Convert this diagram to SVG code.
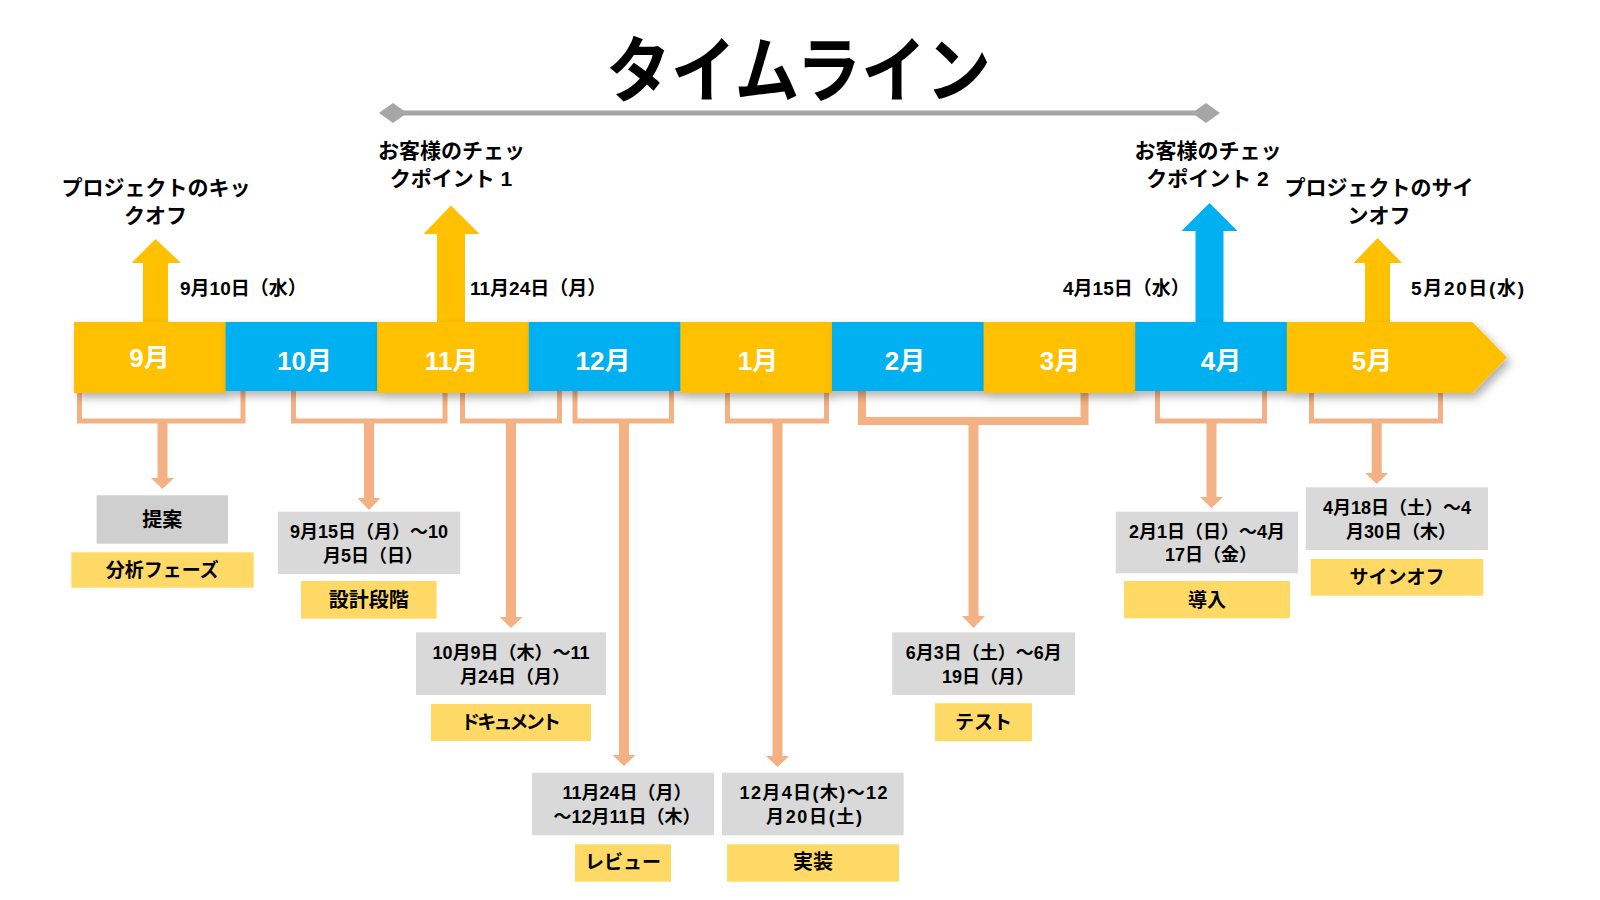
<svg xmlns="http://www.w3.org/2000/svg" width="1600" height="900" viewBox="0 0 1600 900">
<defs>
<style>
.t{font-family:"Liberation Sans","Noto Sans CJK JP",sans-serif;font-weight:bold;fill:#000;}
.title{font-family:"Noto Sans CJK JP",sans-serif;font-weight:bold;font-size:72px;fill:#000;}
.month{font-family:"Liberation Sans","Noto Sans CJK JP",sans-serif;font-weight:bold;font-size:26px;fill:#fff;text-anchor:middle;}
.ms{font-size:21px;text-anchor:middle;}
.dt{font-size:19px;}
.bx{font-size:18px;text-anchor:middle;}
.lb{font-size:19px;text-anchor:middle;}
.segY{fill:#FFC000;filter:url(#sh);}
.segB{fill:#00B0F0;filter:url(#sh);}
.upY{fill:#FFC000;}
.upB{fill:#00B0F0;}
.br{fill:none;stroke:#F4B183;stroke-width:5;}
.stem{stroke:#F4B183;stroke-width:10;}
.head{fill:#F4B183;}
.gbox{fill:#D9D9D9;}
.ybox{fill:#FFD966;}
</style>
<filter id="sh" x="-20%" y="-30%" width="150%" height="180%">
<feDropShadow dx="4" dy="5" stdDeviation="4" flood-color="#000" flood-opacity="0.3"/>
</filter>
</defs>
<rect width="1600" height="900" fill="#fff"/>

<g id="title">
<text class="title" x="798.5" y="96" text-anchor="middle" textLength="385" lengthAdjust="spacingAndGlyphs">タイムライン</text>
<line x1="393" y1="113" x2="1206" y2="113" stroke="#A6A6A6" stroke-width="5"/>
<polygon points="379,113 393,103 407,113 393,123" fill="#A6A6A6"/>
<polygon points="1192,113 1206,103 1220,113 1206,123" fill="#A6A6A6"/>
</g>

<g id="connectors">
<polygon class="upY" points="143,330 143,263 131.5,263 155.5,239 181,263 168,263 168,330"/>
<polygon class="upY" points="437,330 437,234 423.5,234 451,205.5 479.5,234 465,234 465,330"/>
<polygon class="upB" points="1195.5,330 1195.5,231 1181.5,231 1209.5,203 1237.5,231 1223.5,231 1223.5,330"/>
<polygon class="upY" points="1365,330 1365,263 1353.5,263 1377.5,238 1402,263 1390,263 1390,330"/>

<path class="br" d="M79.5 388 V421 H243 V388"/>
<line class="stem" x1="162.5" y1="421" x2="162.5" y2="479"/>
<polygon class="head" points="151,478 174,478 162.5,489"/>

<path class="br" d="M293.5 388 V421 H445 V388"/>
<line class="stem" x1="369" y1="421" x2="369" y2="499"/>
<polygon class="head" points="357.5,498 380.5,498 369,510"/>

<path class="br" d="M462.5 388 V421 H559.5 V388"/>
<line class="stem" x1="511" y1="421" x2="511" y2="618"/>
<polygon class="head" points="499.5,617 522.5,617 511,628"/>

<path class="br" d="M575 388 V421 H671.5 V388"/>
<line class="stem" x1="624" y1="421" x2="624" y2="756"/>
<polygon class="head" points="612.5,755 635.5,755 624,766"/>

<path class="br" d="M727.5 388 V421 H826.5 V388"/>
<line class="stem" x1="777.5" y1="421" x2="777.5" y2="757"/>
<polygon class="head" points="766,756 789,756 777.5,767"/>

<path class="br" style="stroke-width:8" d="M862 388 V421 H1084.5 V388"/>
<line class="stem" x1="973.5" y1="421" x2="973.5" y2="617"/>
<polygon class="head" points="962,616 985,616 973.5,628"/>

<path class="br" d="M1157.5 388 V421 H1264.5 V388"/>
<line class="stem" x1="1211.5" y1="421" x2="1211.5" y2="498"/>
<polygon class="head" points="1200,497 1223,497 1211.5,508"/>

<path class="br" d="M1311.5 388 V421 H1440.5 V388"/>
<line class="stem" x1="1376.7" y1="421" x2="1376.7" y2="474"/>
<polygon class="head" points="1365.2,473 1388.2,473 1376.7,484"/>
</g>

<g id="ribbon">
<g id="m09"><rect class="segY" x="74" y="322" width="152" height="71"/><text class="month" x="149.5" y="367">9月</text></g>
<g id="m10"><rect class="segB" x="225.6" y="322" width="152" height="69"/><text class="month" x="304.5" y="370">10月</text></g>
<g id="m11"><rect class="segY" x="377.2" y="322" width="152" height="71"/><text class="month" x="451.5" y="370">11月</text></g>
<g id="m12"><rect class="segB" x="528.8" y="322" width="152" height="69"/><text class="month" x="603" y="370">12月</text></g>
<g id="m01"><rect class="segY" x="680.4" y="322" width="152" height="71"/><text class="month" x="758" y="370">1月</text></g>
<g id="m02"><rect class="segB" x="832" y="322" width="152" height="69"/><text class="month" x="905" y="370">2月</text></g>
<g id="m03"><rect class="segY" x="983.6" y="322" width="152" height="71"/><text class="month" x="1060" y="370">3月</text></g>
<g id="m04"><rect class="segB" x="1135.2" y="322" width="152" height="69"/><text class="month" x="1221" y="370">4月</text></g>
<g id="m05"><polygon class="segY" points="1286.8,322 1472.5,322 1507,357.5 1472.5,393 1286.8,393"/><text class="month" x="1372" y="370">5月</text></g>
</g>

<g id="milestone-kickoff">
<text class="t ms" x="156" y="195">プロジェクトのキッ</text>
<text class="t ms" x="155.5" y="223">クオフ</text>
<text class="t dt" x="180" y="295">9月10日（水）</text>
</g>
<g id="milestone-check1">
<text class="t ms" x="451.5" y="158">お客様のチェッ</text>
<text class="t ms" x="451" y="186">クポイント 1</text>
<text class="t dt" x="470" y="295">11月24日（月）</text>
</g>
<g id="milestone-check2">
<text class="t ms" x="1208" y="158">お客様のチェッ</text>
<text class="t ms" x="1207.5" y="186">クポイント 2</text>
<text class="t dt" x="1063" y="295">4月15日（水）</text>
</g>
<g id="milestone-signoff">
<text class="t ms" x="1379" y="195">プロジェクトのサイ</text>
<text class="t ms" x="1379" y="223">ンオフ</text>
<text class="t dt" x="1411" y="295" textLength="113">5月20日(水)</text>
</g>

<g id="phase-analysis">
<rect x="96.6" y="495.3" width="131.4" height="48.4" fill="#CFCFCF"/>
<text class="t lb" x="162.3" y="527" style="font-size:20px">提案</text>
<rect class="ybox" x="71.3" y="552.3" width="182.4" height="35.4"/>
<text class="t lb" x="162.3" y="577">分析フェーズ</text>
</g>
<g id="phase-design">
<rect class="gbox" x="277.8" y="511.7" width="182.4" height="62.3"/>
<text class="t bx" x="369" y="538">9月15日（月）～10</text>
<text class="t bx" x="373" y="562">月5日（日）</text>
<rect class="ybox" x="301" y="581" width="135.6" height="37.7"/>
<text class="t lb" x="368.8" y="607" style="font-size:20px">設計段階</text>
</g>
<g id="phase-document">
<rect class="gbox" x="416" y="632.3" width="190" height="62.7"/>
<text class="t bx" x="511" y="659">10月9日（木）～11</text>
<text class="t bx" x="515" y="683">月24日（月）</text>
<rect class="ybox" x="431" y="704" width="160" height="37"/>
<text class="t lb" x="511" y="729" textLength="100">ドキュメント</text>
</g>
<g id="phase-review">
<rect class="gbox" x="532" y="772.7" width="182" height="62.6"/>
<text class="t bx" x="627" y="799">11月24日（月）</text>
<text class="t bx" x="627" y="823">～12月11日（木）</text>
<rect class="ybox" x="575" y="844.3" width="96" height="37.4"/>
<text class="t lb" x="623" y="869">レビュー</text>
</g>
<g id="phase-implementation">
<rect class="gbox" x="722" y="772.7" width="181.7" height="62.6"/>
<text class="t bx" x="813.5" y="799" textLength="148">12月4日(木)～12</text>
<text class="t bx" x="814" y="823" textLength="96">月20日(土)</text>
<rect class="ybox" x="727" y="844.3" width="172" height="37.4"/>
<text class="t lb" x="813" y="869" style="font-size:20px">実装</text>
</g>
<g id="phase-test">
<rect class="gbox" x="892.3" y="632.3" width="182.7" height="62.7"/>
<text class="t bx" x="983.7" y="659">6月3日（土）～6月</text>
<text class="t bx" x="988" y="683">19日（月）</text>
<rect class="ybox" x="935" y="703.3" width="97" height="38"/>
<text class="t lb" x="983.5" y="729">テスト</text>
</g>
<g id="phase-deploy">
<rect class="gbox" x="1115.7" y="511.7" width="182.3" height="61.6"/>
<text class="t bx" x="1207" y="538">2月1日（日）～4月</text>
<text class="t bx" x="1211" y="561">17日（金）</text>
<rect class="ybox" x="1124" y="581" width="166" height="37.3"/>
<text class="t lb" x="1207" y="607">導入</text>
</g>
<g id="phase-signoff">
<rect class="gbox" x="1305.7" y="487.3" width="182.3" height="62.7"/>
<text class="t bx" x="1397" y="514">4月18日（土）～4</text>
<text class="t bx" x="1401" y="538">月30日（木）</text>
<rect class="ybox" x="1310.7" y="559" width="172.6" height="36.7"/>
<text class="t lb" x="1397" y="584">サインオフ</text>
</g>
</svg>
